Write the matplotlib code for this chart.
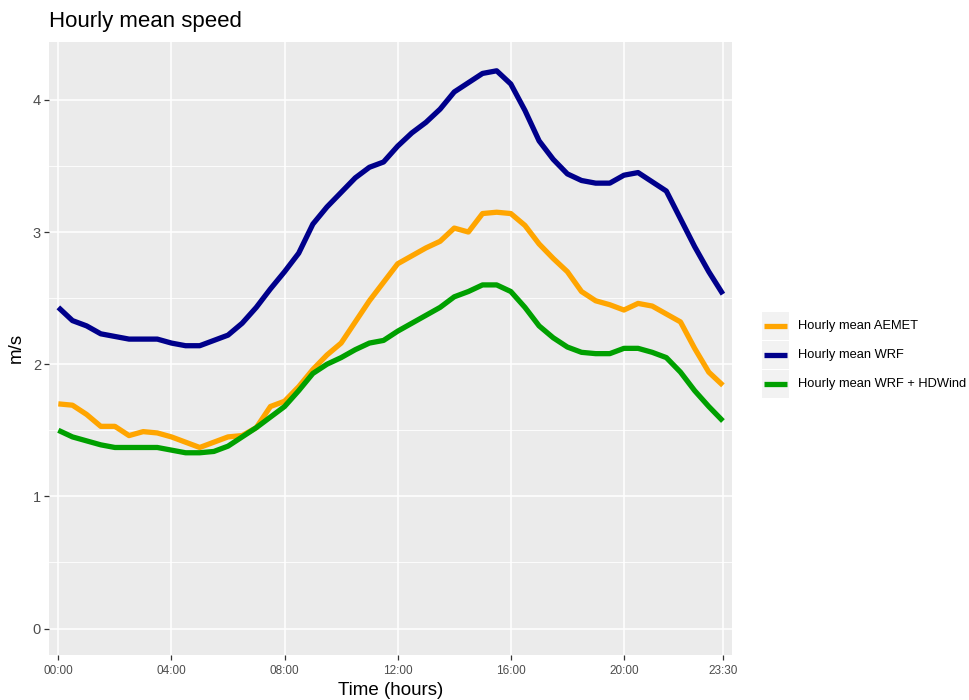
import numpy as np
import matplotlib
matplotlib.use('Agg')
from matplotlib import pyplot as plt
from matplotlib.patches import Rectangle
from matplotlib.lines import Line2D

plt.rcParams['font.family'] = ['Liberation Sans', 'DejaVu Sans']

# half-hourly means, 00:00 .. 23:30
hours = np.arange(48) * 0.5

aemet = [1.70, 1.69, 1.62, 1.53, 1.53, 1.46, 1.49, 1.48, 1.45, 1.41, 1.37, 1.41,
         1.45, 1.46, 1.52, 1.68, 1.72, 1.83, 1.96, 2.07, 2.16, 2.32, 2.48, 2.62,
         2.76, 2.82, 2.88, 2.93, 3.03, 3.00, 3.14, 3.15, 3.14, 3.05, 2.91, 2.80,
         2.70, 2.55, 2.48, 2.45, 2.41, 2.46, 2.44, 2.38, 2.32, 2.12, 1.94, 1.84]

wrf = [2.43, 2.33, 2.29, 2.23, 2.21, 2.19, 2.19, 2.19, 2.16, 2.14, 2.14, 2.18,
       2.22, 2.31, 2.43, 2.57, 2.70, 2.84, 3.06, 3.19, 3.30, 3.41, 3.49, 3.53,
       3.65, 3.75, 3.83, 3.93, 4.06, 4.13, 4.20, 4.22, 4.12, 3.92, 3.69, 3.55,
       3.44, 3.39, 3.37, 3.37, 3.43, 3.45, 3.38, 3.31, 3.10, 2.89, 2.70, 2.53]

wrf_hdwind = [1.50, 1.45, 1.42, 1.39, 1.37, 1.37, 1.37, 1.37, 1.35, 1.33, 1.33, 1.34,
              1.38, 1.45, 1.52, 1.60, 1.68, 1.80, 1.93, 2.00, 2.05, 2.11, 2.16, 2.18,
              2.25, 2.31, 2.37, 2.43, 2.51, 2.55, 2.60, 2.60, 2.55, 2.43, 2.29, 2.20,
              2.13, 2.09, 2.08, 2.08, 2.12, 2.12, 2.09, 2.05, 1.94, 1.80, 1.68, 1.57]

series_labels = ['Hourly mean AEMET', 'Hourly mean WRF', 'Hourly mean WRF + HDWind']
series_colors = ['#FFA500', '#00008B', '#00A000']

x_ticks = [0, 4, 8, 12, 16, 20, 23.5]
x_tick_labels = ['00:00', '04:00', '08:00', '12:00', '16:00', '20:00', '23:30']
y_ticks = [0, 1, 2, 3, 4]

fig = plt.figure(figsize=(9.7, 7), dpi=100)
ax = fig.add_axes([0.0508, 0.0643, 0.7038, 0.8761])
ax.set_facecolor('#EBEBEB')

# grid: white major lines, thinner minor lines on y
ax.set_yticks(y_ticks)
ax.set_yticks(np.arange(0.5, 4.5, 1), minor=True)
ax.set_xticks(x_ticks)
ax.set_xticklabels(x_tick_labels)
ax.grid(which='major', color='white', linewidth=1.1)
ax.grid(which='minor', axis='y', color='white', linewidth=0.6)
ax.set_axisbelow(True)
for s in ax.spines.values():
    s.set_visible(False)

# green goes last so it sits on top where the lines cross
for y, c in zip([aemet, wrf, wrf_hdwind], series_colors):
    ax.plot(hours, y, color=c, linewidth=3.8, solid_capstyle='butt', solid_joinstyle='round')

ax.set_xlim(-0.32, 23.82)
ax.set_ylim(-0.2, 4.44)

ax.tick_params(axis='both', which='major', length=3.5, width=0.9, color='#333333',
               labelcolor='#4D4D4D')
ax.tick_params(axis='y', which='minor', length=0)
ax.tick_params(axis='x', labelsize=8.5, pad=4)
ax.tick_params(axis='y', labelsize=10.5, pad=2.5)

ax.set_xlabel('Time (hours)', fontsize=13.5, labelpad=3)
ax.set_ylabel('m/s', fontsize=13.5, labelpad=6)

fig.text(0.0508, 1 - 22 / 700, 'Hourly mean speed', fontsize=16, va='center', ha='left')

# legend drawn by hand with grey key boxes
W, H = 970, 700
key_tops = [312, 341, 370]
for top, lab, c in zip(key_tops, series_labels, series_colors):
    fig.patches.append(Rectangle((762 / W, 1 - (top + 28) / H), 27 / W, 28 / H,
                                 transform=fig.transFigure, facecolor='#F2F2F2',
                                 edgecolor='none'))
    fig.lines.append(Line2D([764 / W, 787 / W], [1 - (top + 14) / H] * 2,
                            transform=fig.transFigure, color=c, linewidth=3.8,
                            solid_capstyle='butt'))
    fig.text(798 / W, 1 - (top + 14) / H, lab, fontsize=9.3, va='center', ha='left',
             color='black')

plt.savefig('out.png', dpi=100)
